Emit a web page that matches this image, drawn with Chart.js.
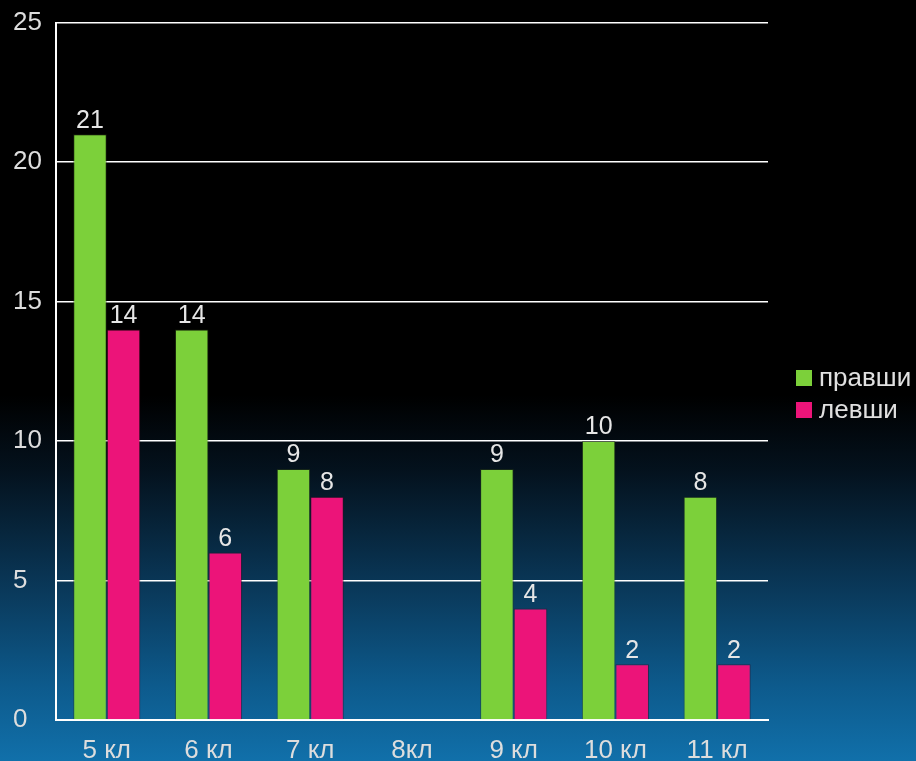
<!DOCTYPE html>
<html>
<head>
<meta charset="utf-8">
<script src="https://cdn.jsdelivr.net/npm/chart.js@4"></script>
<style>
  html, body { margin: 0; padding: 0; }
  body {
    width: 916px; height: 761px; overflow: hidden;
    background: linear-gradient(to bottom, #000 0%, #000 52%, #04121e 62%, #0a3a5c 78%, #0d5a8c 90%, #1170aa 100%);
  }
  #wrap { position: relative; width: 916px; height: 761px; }
</style>
</head>
<body>
<div id="wrap"><canvas id="myChart" width="916" height="761"></canvas></div>
<script>
const categories = ['5 кл', '6 кл', '7 кл', '8кл', '9 кл', '10 кл', '11 кл'];
const rightHanded = [21, 14, 9, null, 9, 10, 8];
const leftHanded = [14, 6, 8, null, 4, 2, 2];
const seriesNames = ['правши', 'левши'];
const yTicks = [0, 5, 10, 15, 20, 25];

const FONT = '"Liberation Sans", Arial, sans-serif';

// draws the numbers above each bar
const valueLabels = {
    id: 'valueLabels',
    afterDatasetsDraw(chart) {
        const ctx = chart.ctx;
        ctx.save();
        ctx.font = '25px ' + FONT;
        ctx.fillStyle = '#e6e6e6';
        ctx.textAlign = 'center';
        ctx.textBaseline = 'bottom';
        chart.data.datasets.forEach((ds, i) => {
            chart.getDatasetMeta(i).data.forEach((bar, j) => {
                if (ds.data[j] == null) return;
                ctx.fillText(ds.data[j], bar.x, bar.y - 1);
            });
        });
        ctx.restore();
    }
};

// legend on the right, drawn by hand so the plot keeps its width
const sideLegend = {
    id: 'sideLegend',
    afterDraw(chart) {
        const ctx = chart.ctx;
        ctx.save();
        ctx.font = '26px ' + FONT;
        ctx.textBaseline = 'middle';
        ctx.textAlign = 'left';
        chart.data.datasets.forEach((ds, i) => {
            const y = 378 + i * 32;
            ctx.fillStyle = ds.backgroundColor;
            ctx.fillRect(796, y - 8, 16, 16);
            ctx.fillStyle = '#e0e0e0';
            ctx.fillText(ds.label, 819, y + 1);
        });
        ctx.restore();
    }
};

const ctx = document.getElementById('myChart').getContext('2d');
new Chart(ctx, {
    type: 'bar',
    data: {
        labels: categories,
        datasets: [{
            label: seriesNames[0],
            data: rightHanded,
            backgroundColor: '#7cd03a',
            borderColor: 'rgba(40,60,20,0.5)',
            borderWidth: 1
        }, {
            label: seriesNames[1],
            data: leftHanded,
            backgroundColor: '#ec1479',
            borderColor: 'rgba(60,10,30,0.5)',
            borderWidth: 1
        }]
    },
    options: {
        responsive: false,
        animation: false,
        layout: { padding: { top: 0, left: 13, right: 148, bottom: 0 } },
        datasets: {
            bar: { categoryPercentage: 0.66, barPercentage: 1.0 }
        },
        scales: {
            x: {
                grid: { display: false },
                border: { color: '#ffffff', width: 2 },
                afterFit: s => { s.height -= 13; },
                ticks: {
                    color: '#dddddd',
                    font: { size: 26, family: FONT, lineHeight: 1 },
                    padding: 10
                }
            },
            y: {
                min: 0,
                max: 25,
                afterBuildTicks: axis => { axis.ticks = yTicks.map(v => ({ value: v })); },
                grid: { color: '#ffffff', lineWidth: 1.5, drawTicks: false },
                border: { color: '#ffffff', width: 2 },
                ticks: {
                    color: '#dddddd',
                    crossAlign: 'far',
                    font: { size: 26, family: FONT },
                    padding: 7
                }
            }
        },
        plugins: {
            legend: { display: false },
            tooltip: { enabled: false }
        }
    },
    plugins: [valueLabels, sideLegend]
});
</script>
</body>
</html>
